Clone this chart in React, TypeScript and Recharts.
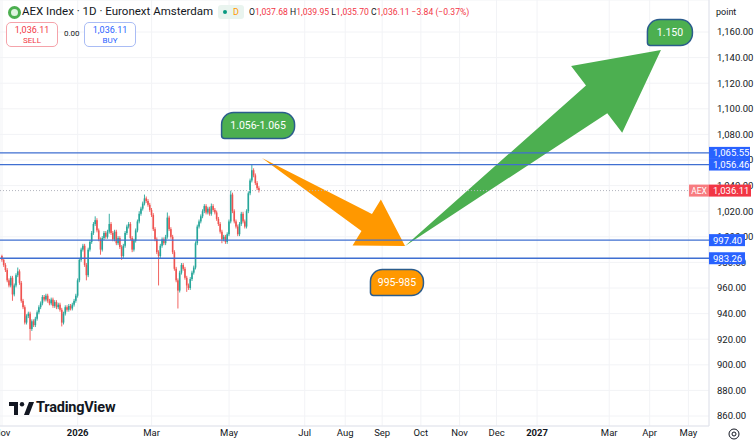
import React from 'react';
import { ComposedChart, Bar, XAxis, YAxis, CartesianGrid, ReferenceLine, ReferenceDot } from 'recharts';

// ---- data ----
const firstOpen = 985;
const closes = [
  982, 978, 974, 966, 962, 968, 955, 962, 970, 973,
  964, 950, 945, 933, 938, 940, 928, 934, 931, 936,
  941, 945, 948, 953, 951, 954, 950, 948, 951, 946,
  949, 945, 947, 943, 933, 940, 945, 943, 946, 944,
  947, 950, 954, 966, 982, 990, 993, 978, 970, 990,
  996, 1003, 1010, 1013, 1005, 998, 990, 999, 1003, 1000,
  1004, 1010, 1003, 998, 1004, 995, 999, 992, 985, 993,
  1003, 1008, 1010, 999, 990, 997, 1005, 1012, 1018, 1022,
  1026, 1030, 1028, 1025, 1021, 1017, 1006, 998, 988, 985,
  993, 998, 995, 1000, 1015, 1006, 1000, 988, 975, 966,
  958, 972, 978, 975, 968, 962, 960, 967, 972, 976,
  995, 1008, 1012, 1016, 1020, 1024, 1019, 1022, 1018, 1024,
  1021, 1019, 1014, 1010, 1004, 998, 1000, 996, 1002, 1012,
  1033, 1020, 1012, 1008, 1002, 1010, 1018, 1012, 1008, 1020,
  1034, 1044, 1052, 1048, 1042, 1038, 1036.11,
];
const highWicks: Record<number, number> = {
  0: 986, 9: 976, 53: 1016, 61: 1018, 78: 1020, 81: 1033, 94: 1019, 119: 1026, 130: 1036, 142: 1056.5,
};
const lowWicks: Record<number, number> = {
  6: 950, 16: 919, 34: 930, 48: 966, 56: 986, 68: 982, 74: 988, 89: 962, 100: 944, 105: 957, 125: 995,
};
const defaultWick = 1.5;

const xTickIdx = [0, 43, 85, 129, 172, 195, 216, 238, 260, 281, 304, 345, 368, 390];
const xTickLabels = ['Nov', '2026', 'Mar', 'May', 'Jul', 'Aug', 'Sep', 'Oct', 'Nov', 'Dec', '2027', 'Mar', 'Apr', 'May'];
const boldLabels = ['2026', '2027'];
const yTicks = [860, 880, 900, 920, 940, 960, 980, 1000, 1020, 1040, 1060, 1080, 1100, 1120, 1140, 1160];

const levelValues = [1065.55, 1056.46, 997.4, 983.26];
const lastPrice = 1036.11;

const orangeArrow = [{ x: 147.7, y: 1061.6 }, { x: 229, y: 992.8 }];
const greenArrow = [{ x: 229, y: 992.8 }, { x: 374.4, y: 1145.9 }];

const calloutIdx = [145.5, 379.5, 224.4];
const calloutValue = [1087, 1159.6, 964.3];
const calloutText = ['1.056-1.065', '1.150', '995-985'];
const calloutFill = ['#4caf50', '#4caf50', '#ff9800'];
const calloutWidth = [73, 45, 53];

// ---- build ----
const candles = closes.map((c, i) => {
  const o = i === 0 ? firstOpen : closes[i - 1];
  const hi = highWicks[i] ?? Math.max(o, c) + defaultWick;
  const lo = lowWicks[i] ?? Math.min(o, c) - defaultWick;
  return { idx: i, o, c, hi, lo, range: [lo, hi] };
});

const FONT = 'Roboto, "Noto Sans", sans-serif';
const UP = '#26a69a';
const DOWN = '#ef5350';
const LEVEL = '#3f6fd1';
const X_DOMAIN: [number, number] = [-1.14, 401.7];
const Y_DOMAIN: [number, number] = [852.2, 1185];

const Candle = (props: any) => {
  const { x, y, width, height, payload } = props;
  if (!payload) return null;
  const top = Math.min(y, y + height);
  const h = Math.abs(height);
  const { o, c, hi, lo } = payload;
  const toPx = (v: number) => top + ((hi - v) / (hi - lo)) * h;
  const cx = x + width / 2;
  const color = c >= o ? UP : DOWN;
  const yo = toPx(o);
  const yc = toPx(c);
  return (
    <g>
      <line x1={cx} x2={cx} y1={top} y2={top + h} stroke={color} strokeWidth={0.9} />
      <rect x={cx - 0.8} y={Math.min(yo, yc)} width={1.6} height={Math.max(1, Math.abs(yo - yc))} fill={color} />
    </g>
  );
};

const makeArrow = (color: string, shaftW: number, headW: number, headL: number) => (p: any) => {
  const { x1, y1, x2, y2 } = p;
  const dx = x2 - x1;
  const dy = y2 - y1;
  const len = Math.hypot(dx, dy) || 1;
  const ux = dx / len;
  const uy = dy / len;
  const nx = -uy;
  const ny = ux;
  const bx = x2 - ux * headL;
  const by = y2 - uy * headL;
  const pts = [
    [x1, y1],
    [bx + (nx * shaftW) / 2, by + (ny * shaftW) / 2],
    [bx + (nx * headW) / 2, by + (ny * headW) / 2],
    [x2, y2],
    [bx - (nx * headW) / 2, by - (ny * headW) / 2],
    [bx - (nx * shaftW) / 2, by - (ny * shaftW) / 2],
  ];
  return <polygon points={pts.map((q) => q.join(',')).join(' ')} fill={color} />;
};

const calloutShape = (i: number) => (p: any) => {
  const { cx, cy } = p;
  const w = calloutWidth[i];
  const h = 26;
  const x0 = cx - w / 2;
  const y0 = cy - h / 2;
  const r = 12;
  const rs = 3;
  const d = `M${x0 + r},${y0} H${x0 + w - r} A${r},${r} 0 0 1 ${x0 + w},${y0 + r} V${y0 + h - r} A${r},${r} 0 0 1 ${x0 + w - r},${y0 + h} H${x0 + rs} A${rs},${rs} 0 0 1 ${x0},${y0 + h - rs} V${y0 + r} A${r},${r} 0 0 1 ${x0 + r},${y0} Z`;
  return (
    <g>
      <path d={d} fill={calloutFill[i]} stroke="#2b5c8c" strokeWidth={1.5} />
      <text x={cx} y={cy} dy="0.35em" textAnchor="middle" fill="#fff" fontSize={10.5} fontFamily={FONT}>
        {calloutText[i]}
      </text>
    </g>
  );
};

const fmt = (v: number) => v.toLocaleString('en-US', { minimumFractionDigits: 2, maximumFractionDigits: 2 });

const axisBadge = (text: string, bg: string, w: number) => (props: any) => {
  const vb = props.viewBox || {};
  const xr = (vb.x || 0) + (vb.width || 0);
  const y = vb.y || 0;
  return (
    <g>
      <rect x={xr} y={y - 6} width={w} height={12} fill={bg} />
      <text x={xr + 4} y={y} dy="0.36em" fill="#fff" fontSize={9.5} fontFamily={FONT}>
        {text}
      </text>
    </g>
  );
};

const lastBadge = (props: any) => {
  const vb = props.viewBox || {};
  const xr = (vb.x || 0) + (vb.width || 0);
  const y = vb.y || 0;
  return (
    <g>
      <rect x={xr - 20} y={y - 6} width={20} height={12} fill="#f77c80" />
      <text x={xr - 10} y={y} dy="0.36em" textAnchor="middle" fill="#fff" fontSize={8.5} fontFamily={FONT}>AEX</text>
      <rect x={xr} y={y - 6} width={42} height={12} fill="#f23645" />
      <text x={xr + 4} y={y} dy="0.36em" fill="#fff" fontSize={9.5} fontFamily={FONT}>{fmt(lastPrice)}</text>
    </g>
  );
};

const XTick = (props: any) => {
  const { x, y, payload } = props;
  const i = xTickIdx.indexOf(payload.value);
  const label = xTickLabels[i] ?? '';
  return (
    <text x={x} y={y} dy={2} textAnchor="middle" fontSize={9.5} fontFamily={FONT} fill="#131722"
      fontWeight={boldLabels.includes(label) ? 700 : 400}>
      {label}
    </text>
  );
};

export default function App() {
  return (
    <div style={{ position: 'absolute', left: 0, top: 0, width: 756, height: 447, background: '#fff', fontFamily: FONT, overflow: 'hidden' }}>
      <ComposedChart width={756} height={447} data={candles} margin={{ top: 0, right: 0, bottom: 0, left: 0 }}>
        <CartesianGrid stroke="#f2f3f6" />
        <XAxis dataKey="idx" type="number" domain={X_DOMAIN} ticks={xTickIdx} interval={0} height={21}
          tick={<XTick />} tickLine={false} axisLine={{ stroke: '#e0e3eb' }} allowDataOverflow />
        <YAxis orientation="right" width={47} domain={Y_DOMAIN} ticks={yTicks} interval={0}
          tickFormatter={fmt} tick={{ fontSize: 9.5, fill: '#131722', fontFamily: FONT, textAnchor: 'start' }}
          tickLine={false} tickMargin={7} tickSize={1} axisLine={{ stroke: '#e0e3eb' }} allowDataOverflow />
        <ReferenceLine segment={orangeArrow} shape={makeArrow('#ff9800', 20, 54, 45)} ifOverflow="visible" />
        <ReferenceLine segment={greenArrow} shape={makeArrow('#4caf50', 35, 84, 81)} ifOverflow="visible" />
        <Bar dataKey="range" shape={<Candle />} isAnimationActive={false} barSize={2} />
        {calloutText.map((t, i) => (
          <ReferenceDot key={t} x={calloutIdx[i]} y={calloutValue[i]} r={1} shape={calloutShape(i)} ifOverflow="visible" />
        ))}
      </ComposedChart>

      {/* overlay layer: price lines and their axis badges, drawn above the axis labels */}
      <div style={{ position: 'absolute', left: 0, top: 0, pointerEvents: 'none' }}>
        <ComposedChart width={756} height={447} data={candles} margin={{ top: 0, right: 0, bottom: 0, left: 0 }}>
          <XAxis dataKey="idx" type="number" domain={X_DOMAIN} height={21} tick={false} tickLine={false} axisLine={false} allowDataOverflow />
          <YAxis orientation="right" width={47} domain={Y_DOMAIN} tick={false} tickLine={false} axisLine={false} allowDataOverflow />
          <ReferenceLine y={lastPrice} stroke="#b2b5be" strokeDasharray="1 2" label={lastBadge} />
          {levelValues.map((v) => (
            <ReferenceLine key={v} y={v} stroke={LEVEL} strokeWidth={1.3}
              label={axisBadge(fmt(v), '#2962ff', v >= 1000 ? 41 : 36)} />
          ))}
        </ComposedChart>
      </div>

      {/* header */}
      <div style={{ position: 'absolute', left: 8, top: 6, width: 7, height: 7, borderRadius: '50%', border: '3px solid #4caf50', background: '#dff3e0' }} />
      <div style={{ position: 'absolute', left: 22, top: 4, fontSize: 11.5, lineHeight: '15px', color: '#131722', whiteSpace: 'nowrap' }}>
        AEX Index · 1D · Euronext Amsterdam
      </div>
      <div style={{ position: 'absolute', left: 218, top: 5, width: 26, height: 14, borderRadius: 3, background: '#e9f4ef' }}>
        <div style={{ position: 'absolute', left: 5, top: 5, width: 4, height: 4, borderRadius: '50%', background: '#089981' }} />
        <div style={{ position: 'absolute', left: 15, top: 0, fontSize: 9, lineHeight: '14px', color: '#ff9800' }}>D</div>
      </div>
      <div style={{ position: 'absolute', left: 249, top: 5, fontSize: 8.6, lineHeight: '14px', color: '#f23645', whiteSpace: 'nowrap' }}>
        <span style={{ color: '#131722' }}>O</span>1,037.68 <span style={{ color: '#131722' }}>H</span>1,039.95{' '}
        <span style={{ color: '#131722' }}>L</span>1,035.70 <span style={{ color: '#131722' }}>C</span>1,036.11 −3.84 (−0.37%)
      </div>
      <div style={{ position: 'absolute', left: 6, top: 22, width: 50, height: 23, border: '1px solid #f5a3aa', borderRadius: 5, background: '#fff', color: '#f23645', textAlign: 'center' }}>
        <div style={{ fontSize: 9, lineHeight: '11px', marginTop: 2 }}>1,036.11</div>
        <div style={{ fontSize: 8, lineHeight: '10px' }}>SELL</div>
      </div>
      <div style={{ position: 'absolute', left: 64, top: 29, fontSize: 8, lineHeight: '10px', color: '#131722' }}>0.00</div>
      <div style={{ position: 'absolute', left: 84, top: 22, width: 50, height: 23, border: '1px solid #a9bcf5', borderRadius: 5, background: '#fff', color: '#2962ff', textAlign: 'center' }}>
        <div style={{ fontSize: 9, lineHeight: '11px', marginTop: 2 }}>1,036.11</div>
        <div style={{ fontSize: 8, lineHeight: '10px' }}>BUY</div>
      </div>
      <div style={{ position: 'absolute', left: 716, top: 6, fontSize: 9, lineHeight: '12px', color: '#131722' }}>point</div>

      {/* logo */}
      <svg style={{ position: 'absolute', left: 9, top: 402 }} width={26} height={13}>
        <path d="M0,0 H9 V13 H5 V4 H0 Z" fill="#131722" />
        <circle cx={13} cy={2.2} r={2.2} fill="#131722" />
        <path d="M15,13 L20,0 H25 L20,13 Z" fill="#131722" />
      </svg>
      <div style={{ position: 'absolute', left: 36, top: 399, fontSize: 14.5, fontWeight: 700, lineHeight: '18px', color: '#131722', letterSpacing: -0.2 }}>
        TradingView
      </div>

      {/* settings icon */}
      <svg style={{ position: 'absolute', left: 728, top: 428 }} width={12} height={12}>
        <circle cx={6} cy={6} r={5} fill="none" stroke="#131722" strokeWidth={1} />
        <circle cx={6} cy={6} r={2} fill="none" stroke="#131722" strokeWidth={1} />
      </svg>
    </div>
  );
}
